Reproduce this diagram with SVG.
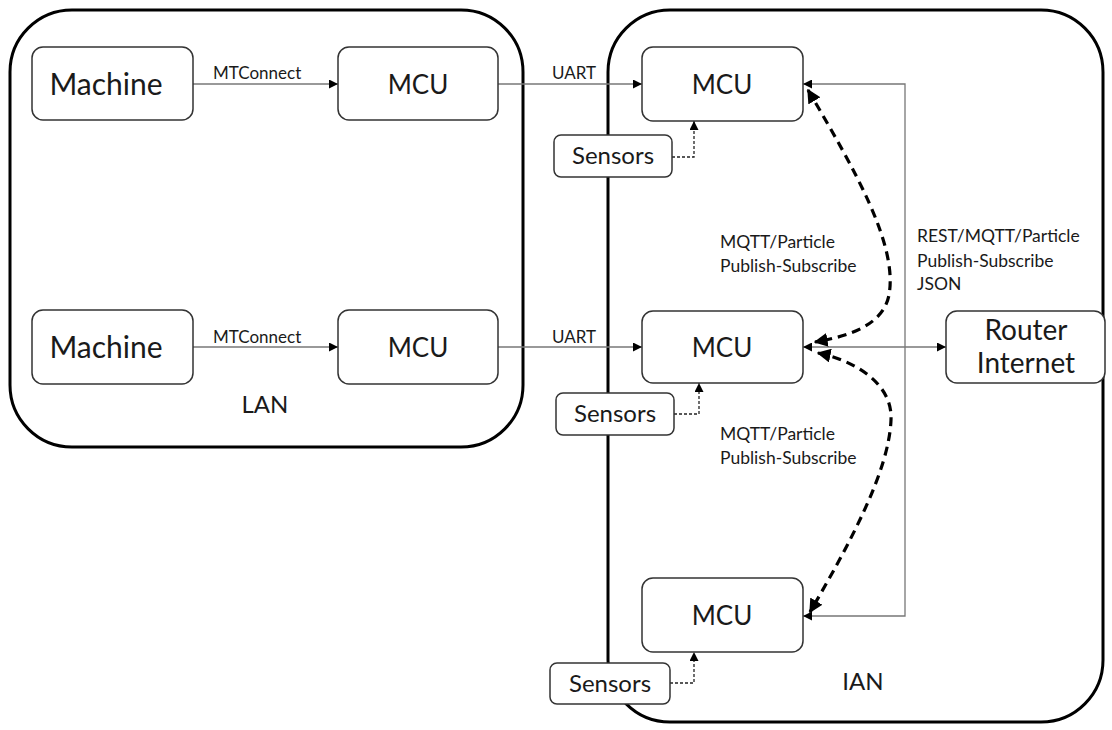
<svg xmlns="http://www.w3.org/2000/svg" width="1112" height="730" viewBox="0 0 1112 730">
<defs>
<style>
.cont{fill:none;stroke:#000;stroke-width:3}
.box{fill:#fff;stroke:#333;stroke-width:1.5}
.t{font-family:Lato,"Liberation Sans",sans-serif;fill:#1a1a1a;text-anchor:middle}
.big{font-size:28px}
.mcu{font-size:26px}
.mach{font-size:30px}
.mid{font-size:24px}
.sm{font-size:17px;text-anchor:start}
.lbl{font-size:17.5px;text-anchor:start}
.line{fill:none;stroke:#777;stroke-width:1.3}
.sens{fill:none;stroke:#222;stroke-width:1.3;stroke-dasharray:3 2}
.dash{fill:none;stroke:#000;stroke-width:3.2;stroke-dasharray:9 6}
</style>
<marker id="ah" viewBox="0 0 10 10" refX="10" refY="5" markerWidth="9" markerHeight="9" markerUnits="userSpaceOnUse" orient="auto-start-reverse">
<path d="M0 0 L10 5 L0 10 z" fill="#000"/>
</marker>
<marker id="ahb" viewBox="0 0 10 10" refX="9" refY="5" markerWidth="14" markerHeight="14" markerUnits="userSpaceOnUse" orient="auto-start-reverse">
<path d="M0 0 L10 5 L0 10 z" fill="#000"/>
</marker>
</defs>
<rect width="1112" height="730" fill="#fff"/>

<g id="lan">
<rect class="cont" x="10" y="10" width="513" height="437" rx="62"/>
<text class="t mid" x="265" y="413">LAN</text>
</g>
<g id="ian">
<rect class="cont" x="608" y="10" width="495" height="712" rx="62"/>
<text class="t mid" x="863" y="690">IAN</text>
</g>

<g id="connectors">
<line class="line" x1="193" y1="84" x2="338" y2="84" marker-end="url(#ah)"/>
<line class="line" x1="193" y1="347" x2="338" y2="347" marker-end="url(#ah)"/>
<line class="line" x1="498" y1="84" x2="642" y2="84" marker-end="url(#ah)"/>
<line class="line" x1="498" y1="347" x2="642" y2="347" marker-end="url(#ah)"/>
<path class="line" d="M803 84 H905 V616 H803" marker-start="url(#ah)" marker-end="url(#ah)"/>
<line class="line" x1="803" y1="347" x2="946" y2="347" marker-start="url(#ah)" marker-end="url(#ah)"/>
<path class="sens" d="M672 157 H694 V121" marker-end="url(#ah)"/>
<path class="sens" d="M674 414 H699 V383" marker-end="url(#ah)"/>
<path class="sens" d="M670 683 H694 V652" marker-end="url(#ah)"/>
<path class="dash" d="M808 90 C855 170, 898 245, 889 295 C883 325, 850 336, 815 342" marker-start="url(#ahb)" marker-end="url(#ahb)"/>
<path class="dash" d="M818 353 C852 360, 893 382, 891 420 C889 470, 852 540, 810 612" marker-start="url(#ahb)" marker-end="url(#ahb)"/>
<text class="t sm" x="213" y="79">MTConnect</text>
<text class="t sm" x="213" y="343">MTConnect</text>
<text class="t sm" x="552" y="79">UART</text>
<text class="t sm" x="552" y="343">UART</text>
<text class="t lbl" x="720" y="248">MQTT/Particle</text>
<text class="t lbl" x="720" y="272">Publish-Subscribe</text>
<text class="t lbl" x="720" y="440">MQTT/Particle</text>
<text class="t lbl" x="720" y="464">Publish-Subscribe</text>
<text class="t lbl" x="917" y="242">REST/MQTT/Particle</text>
<text class="t lbl" x="917" y="267">Publish-Subscribe</text>
<text class="t lbl" x="917" y="290">JSON</text>
</g>

<g id="machine1"><rect class="box" x="32" y="47" width="161" height="73" rx="11"/><text class="t mach" x="106" y="95">Machine</text></g>
<g id="mcu_lan1"><rect class="box" x="338" y="47" width="160" height="73" rx="11"/><text class="t mcu" x="418" y="94">MCU</text></g>
<g id="machine2"><rect class="box" x="32" y="310" width="161" height="74" rx="11"/><text class="t mach" x="106" y="358">Machine</text></g>
<g id="mcu_lan2"><rect class="box" x="338" y="310" width="160" height="74" rx="11"/><text class="t mcu" x="418" y="357">MCU</text></g>

<g id="mcu_ian1"><rect class="box" x="642" y="47" width="161" height="74" rx="11"/><text class="t mcu" x="722" y="94">MCU</text></g>
<g id="sensors1"><rect class="box" x="554" y="135" width="118" height="42" rx="7"/><text class="t mid" x="613" y="164">Sensors</text></g>
<g id="mcu_ian2"><rect class="box" x="642" y="311" width="161" height="72" rx="11"/><text class="t mcu" x="722" y="357">MCU</text></g>
<g id="sensors2"><rect class="box" x="556" y="393" width="118" height="42" rx="7"/><text class="t mid" x="615" y="422">Sensors</text></g>
<g id="mcu_ian3"><rect class="box" x="642" y="578" width="161" height="74" rx="11"/><text class="t mcu" x="722" y="625">MCU</text></g>
<g id="sensors3"><rect class="box" x="550" y="663" width="120" height="41" rx="7"/><text class="t mid" x="610" y="692">Sensors</text></g>
<g id="router"><rect class="box" x="946" y="311" width="159" height="72" rx="11"/><text class="t big" x="1026" y="340">Router</text><text class="t big" x="1026" y="373">Internet</text></g>
</svg>
